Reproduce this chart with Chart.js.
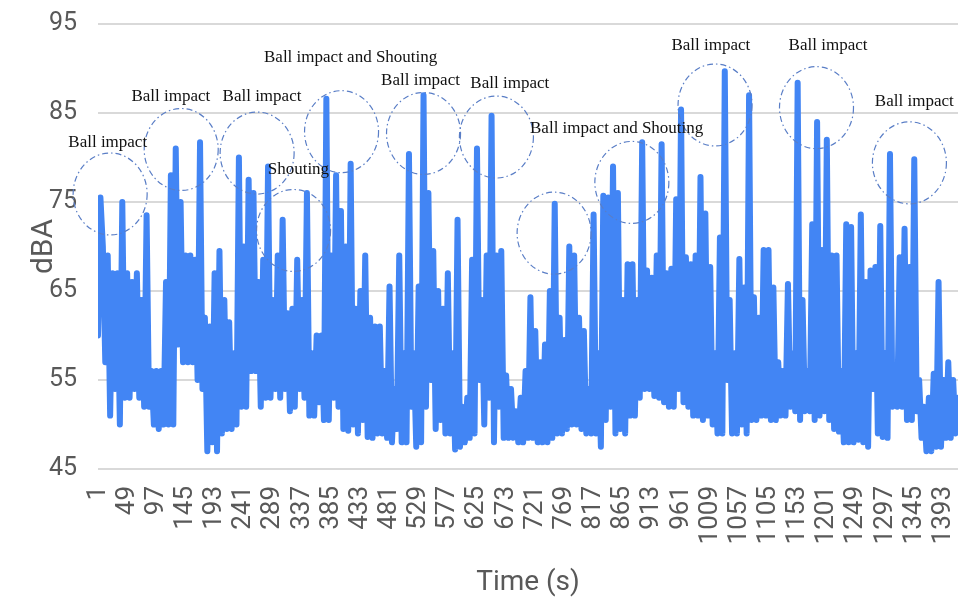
<!DOCTYPE html>
<html>
<head>
<meta charset="utf-8">
<script src="https://cdn.jsdelivr.net/npm/chart.js@4"></script>
<style>
  html, body { margin: 0; padding: 0; background: #fff; }
  #wrap { width: 958px; height: 603px; }
</style>
</head>
<body>
<div id="wrap"><canvas id="noiseChart" width="958" height="603"></canvas></div>
<script>
// --- DATA ---
const firstSecond = 1;
const sampleStep = 4; // one reading every 4 s
const lastSecond = 1417;

// sound level (dBA)
const levels = [
    60, 75.5, 70, 57, 69, 51, 67, 54, 67, 50, 75, 53, 67, 53, 66, 54, 67, 53, 64, 52,
    73.5, 52, 56, 50, 56, 49.5, 56, 50, 66, 50, 78, 50, 81, 59, 75, 57, 69, 57, 69, 57,
    68.5, 55, 81.7, 54, 62, 47, 61, 48, 67, 47, 69.5, 49, 64, 49.5, 61.5, 49.5, 58, 50, 80, 52,
    70, 52, 77.5, 56, 76, 56, 66, 52, 68.5, 53, 79, 53, 64, 54, 69, 53, 73, 54,
    62.5, 51.5, 63, 52, 68.5, 54, 64, 53, 76, 51, 58, 51, 60, 52.5, 60, 50.5, 86.6, 50.5, 69, 53,
    78, 52, 74, 49.5, 70, 49.3, 79.3, 50, 63, 49, 65, 50.5, 69, 48.6, 62, 48.5, 61, 49, 61, 49,
    56, 48.5, 65.5, 48, 54, 49.5, 69, 48, 58, 48, 80.4, 52, 58, 47.5, 65.5, 48, 87, 52, 76, 55,
    69.5, 49.5, 65, 50.5, 63, 49, 67, 49, 58, 47.2, 73, 47.5, 52, 48, 53, 48.5, 68.5, 49, 81, 55,
    64, 50, 69, 53, 84.7, 48, 69, 52, 69.5, 48.5, 55.5, 48.5, 54, 48.5, 51.5, 48, 53, 48, 56, 48.5,
    64.3, 48.5, 60.5, 48, 57, 48, 59, 48, 65, 48.5, 74.8, 49, 62, 49, 59.5, 49.5, 70, 50, 69, 50,
    62, 49.5, 60.5, 49, 54, 49, 73.6, 49, 58, 47.5, 75.7, 50.5, 75.5, 52, 79, 49, 76, 49.5, 64, 49,
    68, 51, 68, 51, 64, 53, 81.7, 54, 67.3, 54, 66.5, 53.2, 69, 53, 81.5, 52.5, 67, 52, 67.5, 52,
    75.3, 54, 85.4, 52.5, 68.8, 52, 68, 51, 69, 51, 77.8, 50.5, 73.7, 51, 67.7, 50, 58, 49, 71, 49,
    89.7, 55, 64, 49, 58, 49, 68.6, 50, 65.4, 49, 87, 50.5, 64.3, 50.5, 62, 51, 69.6, 51, 69.6, 50.5,
    65.4, 50.5, 57, 51, 56, 51, 65.8, 52, 58, 51.5, 88.4, 50.5, 64, 51.5, 56, 51.5, 72.5, 50.5, 84, 51,
    69.6, 51.5, 82, 50.5, 69, 49.5, 69, 49.2, 56, 48, 72.5, 48, 72.2, 48, 58, 48.3, 73.6, 48, 66, 47.5,
    67.3, 54, 67.7, 49, 72.3, 48.6, 58, 48.5, 80.4, 52, 55, 52, 68.8, 52, 72, 50.5, 67.7, 50.5, 79.8, 51.5,
    55, 48.5, 52, 47, 53, 47, 55.7, 47.5, 66, 47.5, 55, 48.5, 57, 48.5, 55, 49, 53
];

const xTicks = [1, 49, 97, 145, 193, 241, 289, 337, 385, 433, 481, 529, 577, 625, 673, 721,
    769, 817, 865, 913, 961, 1009, 1057, 1105, 1153, 1201, 1249, 1297, 1345, 1393];
const yTicks = [45, 55, 65, 75, 85, 95];

// event notes: text and where it sits (seconds, dBA)
const noteTexts = ['Ball impact', 'Ball impact', 'Ball impact', 'Shouting', 'Ball impact and Shouting',
    'Ball impact', 'Ball impact', 'Ball impact and Shouting', 'Ball impact', 'Ball impact', 'Ball impact'];
const noteSec = [17, 121, 271, 331, 417, 532, 679, 855, 1010, 1203, 1345];
const noteDba = [81.7, 86.9, 86.9, 78.7, 91.2, 88.6, 88.3, 83.3, 92.6, 92.6, 86.3];

// circled events (seconds, dBA)
const ringSec = [21, 138, 263, 323, 402, 537, 657, 752, 880, 1017, 1184, 1337];
const ringDba = [75.9, 80.9, 80.5, 71.8, 82.9, 82.7, 82.3, 71.5, 77.2, 85.9, 85.6, 79.4];

const points = levels.map((v, i) => ({ x: firstSecond + i * sampleStep, y: v }));

const axisGrey = '#595959';
const uiFont = 'Roboto, "Liberation Sans", Arial, sans-serif';

// draws the dash-dot rings and the serif notes
const notesPlugin = {
    id: 'eventNotes',
    afterDatasetsDraw(chart) {
        const { ctx, scales: { x, y } } = chart;
        ctx.save();
        ctx.strokeStyle = '#5a7ec6';
        ctx.lineWidth = 1.2;
        ctx.setLineDash([6, 3, 1.5, 3]);
        ringSec.forEach((s, i) => {
            ctx.beginPath();
            ctx.ellipse(x.getPixelForValue(s), y.getPixelForValue(ringDba[i]), 37, 41, 0, 0, Math.PI * 2);
            ctx.stroke();
        });
        ctx.setLineDash([]);
        ctx.fillStyle = '#111';
        ctx.font = '17px "Liberation Serif", "Times New Roman", serif';
        ctx.textAlign = 'center';
        ctx.textBaseline = 'middle';
        noteTexts.forEach((t, i) => {
            ctx.fillText(t, x.getPixelForValue(noteSec[i]), y.getPixelForValue(noteDba[i]));
        });
        ctx.restore();
    }
};

const ctx = document.getElementById('noiseChart').getContext('2d');
new Chart(ctx, {
    type: 'line',
    data: {
        datasets: [{
            data: points,
            borderColor: '#4285F4',
            borderWidth: 6,
            borderJoinStyle: 'round',
            borderCapStyle: 'round',
            pointRadius: 0,
            tension: 0,
            fill: false
        }]
    },
    options: {
        responsive: false,
        animation: false,
        layout: { padding: { top: 24, right: 0, bottom: 0, left: 0 } },
        plugins: {
            legend: { display: false },
            tooltip: { enabled: false }
        },
        scales: {
            x: {
                type: 'linear',
                min: firstSecond,
                max: lastSecond,
                afterBuildTicks: scale => { scale.ticks = xTicks.map(v => ({ value: v })); },
                afterFit: scale => {
                    scale.height = 134;
                    scale.paddingLeft = 0;
                    scale.paddingRight = 0;
                },
                ticks: {
                    autoSkip: false,
                    minRotation: 90,
                    maxRotation: 90,
                    padding: 9,
                    color: axisGrey,
                    font: { family: uiFont, size: 26 },
                    callback: v => String(v)
                },
                grid: { display: false },
                border: { display: false },
                title: {
                    display: true,
                    text: 'Time (s)',
                    color: axisGrey,
                    font: { family: uiFont, size: 28 },
                    padding: { top: 0, bottom: 3 }
                }
            },
            y: {
                min: yTicks[0],
                max: yTicks[yTicks.length - 1],
                afterBuildTicks: scale => { scale.ticks = yTicks.map(v => ({ value: v })); },
                afterFit: scale => {
                    scale.width = 98;
                    scale.paddingTop = 0;
                    scale.paddingBottom = 0;
                },
                ticks: {
                    padding: 21,
                    color: axisGrey,
                    font: { family: uiFont, size: 25 }
                },
                grid: { color: '#d9d9d9', lineWidth: 2, drawTicks: false },
                border: { display: false },
                title: {
                    display: true,
                    text: 'dBA',
                    color: axisGrey,
                    font: { family: uiFont, size: 30 },
                    padding: { top: 26, bottom: 0 }
                }
            }
        }
    },
    plugins: [notesPlugin]
});
</script>
</body>
</html>
